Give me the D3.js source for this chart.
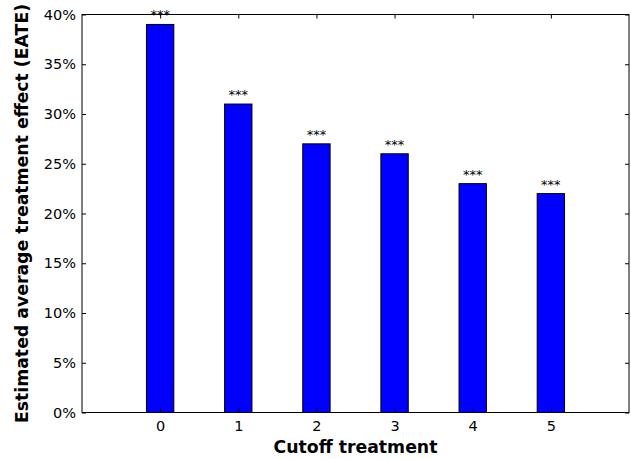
<!DOCTYPE html>
<html>
<head>
<meta charset="utf-8">
<script src="https://cdn.jsdelivr.net/npm/d3@7"></script>
<style>
  body{margin:0;background:#fff;}
  text{font-family:"DejaVu Sans",sans-serif;}
</style>
</head>
<body>
<svg id="chart" width="631" height="459"></svg>
<script>
// data
var cutoffs = [0, 1, 2, 3, 4, 5];
var eate = [0.39, 0.31, 0.27, 0.26, 0.23, 0.22];
var stars = ["***", "***", "***", "***", "***", "***"];
var yTicks = [0, 0.05, 0.10, 0.15, 0.20, 0.25, 0.30, 0.35, 0.40];

var margin = {left:82, right:2, top:14.5, bottom:46.5};
var W = 631, H = 459;
var w = W - margin.left - margin.right, h = H - margin.top - margin.bottom;

var svg = d3.select("#chart");
var g = svg.append("g").attr("transform","translate("+margin.left+","+margin.top+")");

var x = d3.scaleLinear().domain([-1, 6]).range([0, w]);
var y = d3.scaleLinear().domain([0, 0.4]).range([h, 0]);
var bw = x(0.35) - x(0);

// bars
g.selectAll("rect.bar")
  .data(eate)
  .enter()
  .append("rect")
  .attr("class","bar")
  .attr("x",function(d,i){return x(cutoffs[i]) - bw/2;})
  .attr("y",function(d){return y(d);})
  .attr("width",bw)
  .attr("height",function(d){return h - y(d);})
  .attr("fill","#0000ff")
  .attr("stroke","#000")
  .attr("stroke-width",1);

// significance stars
g.selectAll("text.star")
  .data(eate)
  .enter()
  .append("text")
  .attr("class","star")
  .attr("x",function(d,i){return x(cutoffs[i]);})
  .attr("y",function(d){return y(d) - 5;})
  .attr("text-anchor","middle")
  .style("font-size","13px")
  .attr("fill","#000")
  .text(function(d,i){return stars[i];});

// axes, ticks pointing inward
var fmt = function(d){return Math.round(d*100)+"%";};
var yAxis = g.append("g").call(d3.axisLeft(y).tickValues(yTicks).tickFormat(fmt).tickSizeInner(-4).tickSizeOuter(0).tickPadding(6));
var yAxisR = g.append("g").attr("transform","translate("+w+",0)")
  .call(d3.axisRight(y).tickValues(yTicks).tickFormat("").tickSizeInner(-4).tickSizeOuter(0));
var xAxis = g.append("g").attr("transform","translate(0,"+h+")")
  .call(d3.axisBottom(x).tickValues(cutoffs).tickFormat(d3.format("d")).tickSizeInner(-4).tickSizeOuter(0).tickPadding(8));
var xAxisT = g.append("g")
  .call(d3.axisTop(x).tickValues(cutoffs).tickFormat("").tickSizeInner(-4).tickSizeOuter(0));

[yAxis, yAxisR, xAxis, xAxisT].forEach(function(a){
  a.select(".domain").remove();
  a.attr("font-size",null).attr("font-family",null);
  a.selectAll("text").style("font-size","14.5px").attr("fill","#000").style("font-family","DejaVu Sans");
  a.selectAll("line").attr("stroke","#000");
});

// frame
g.append("rect")
  .attr("width",w).attr("height",h)
  .attr("fill","none").attr("stroke","#000").attr("stroke-width",1);

// axis titles
svg.append("text")
  .attr("x", margin.left + w/2)
  .attr("y", 452.5)
  .attr("text-anchor","middle")
  .style("font-size","17.3px")
  .attr("font-weight","bold")
  .text("Cutoff treatment");

svg.append("text")
  .attr("transform","translate(28,"+(margin.top + h/2)+") rotate(-90)")
  .attr("text-anchor","middle")
  .style("font-size","17.3px")
  .attr("font-weight","bold")
  .text("Estimated average treatment effect (EATE)");
</script>
</body>
</html>
